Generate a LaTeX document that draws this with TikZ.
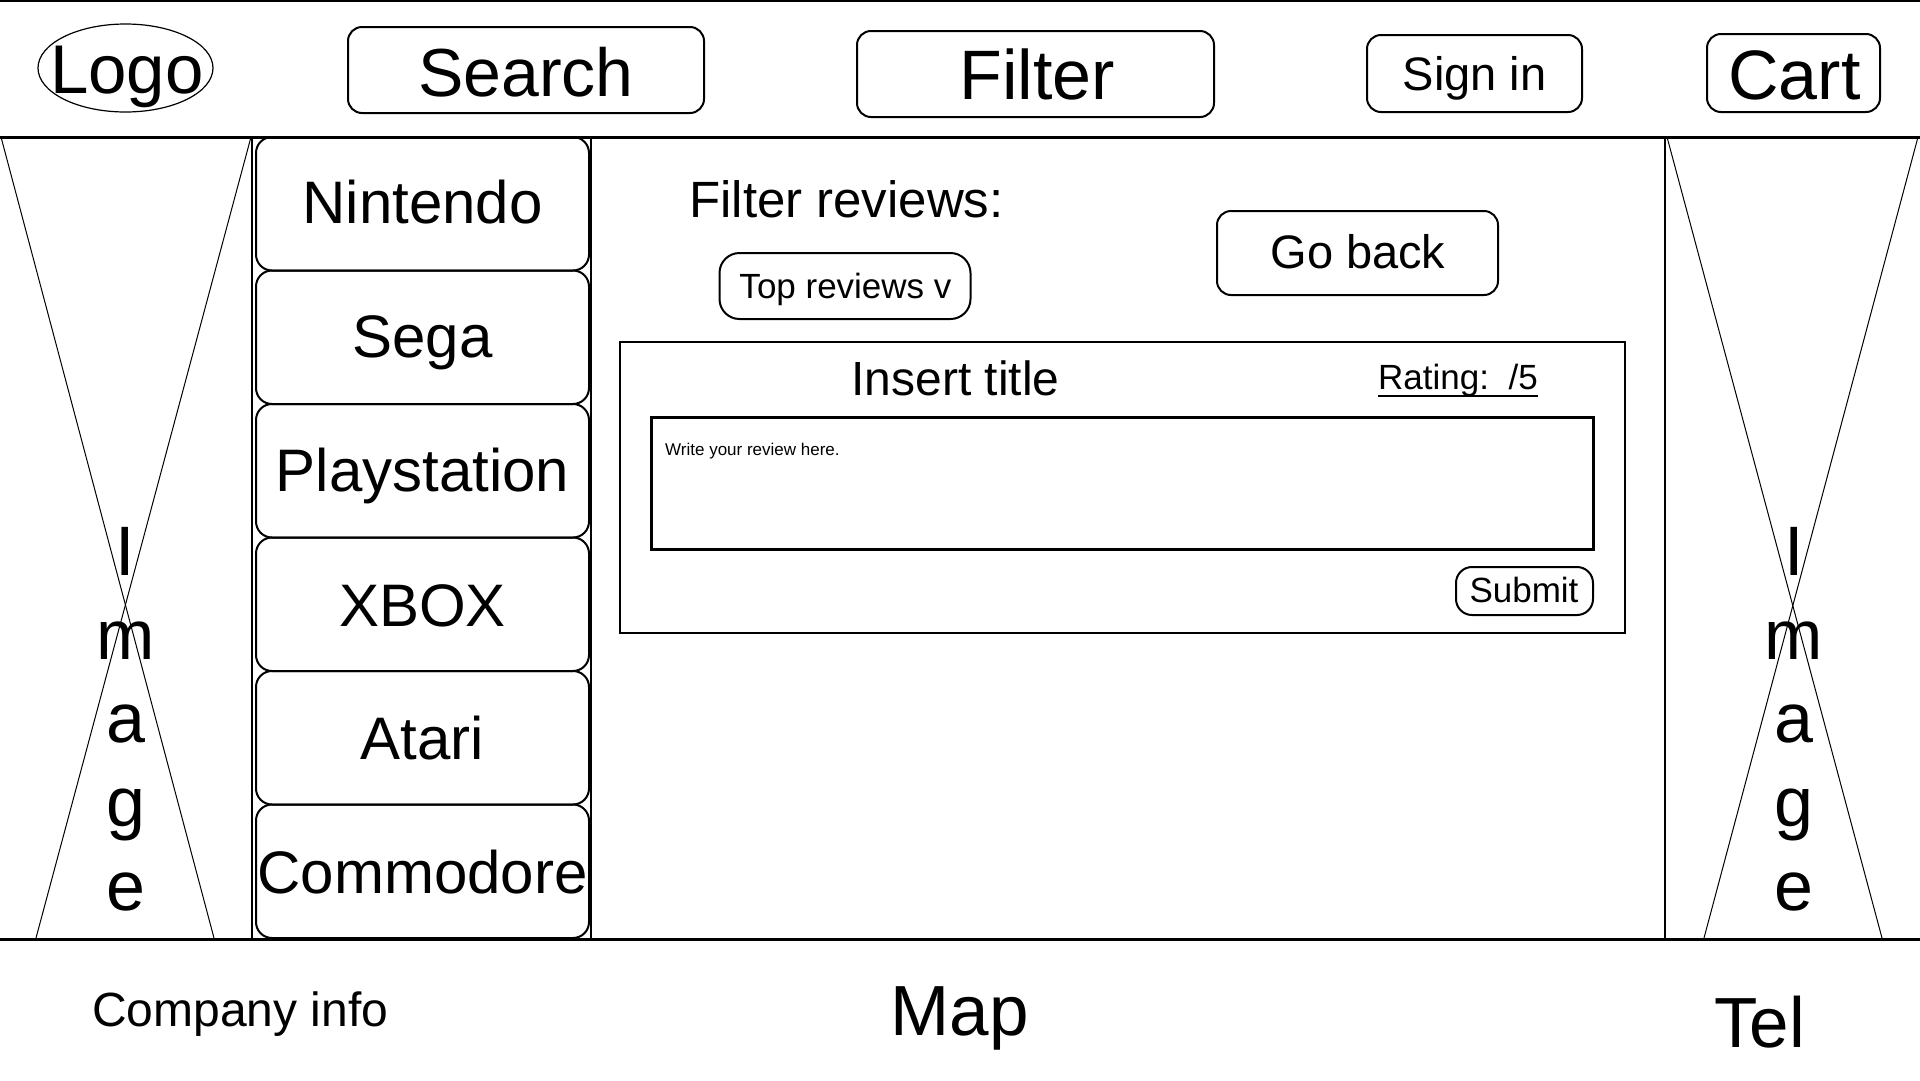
\documentclass[tikz,border=0pt]{standalone}
\usepackage{fontspec}
\setmainfont{Liberation Sans}
\usetikzlibrary{shapes.geometric}
\newcommand\wfs[1]{\fontsize{#1}{#1}\selectfont}
\begin{document}
\begin{tikzpicture}[x=1pt,y=-1pt,
  box/.style={draw,line width=2pt,rounded corners=14pt,inner sep=0pt},
  plain/.style={draw,inner sep=0pt},
  txt/.style={inner sep=0pt,anchor=base},
  thinline/.style={line width=1pt},
]
\useasboundingbox[fill=white] (0,0) rectangle (1920,1080);

% ---------- header ----------
\node[plain,ellipse,line width=1.2pt,minimum width=175pt,minimum height=88pt] (logobox) at (125.5,68) {};
\node[txt,font=\wfs{69}] (logo) at (127,93) {Logo};

\node[box,minimum width=356pt,minimum height=86pt] (searchbox) at (526,70) {};
\node[txt,font=\wfs{68}] (search) at (526,96) {Search};

\node[box,minimum width=357pt,minimum height=86pt] (filterbox) at (1035.5,74) {};
\node[txt,font=\wfs{70}] (filter) at (1037,99) {Filter};

\node[box,minimum width=215pt,minimum height=77pt] (signbox) at (1474.5,73.5) {};
\node[txt,font=\wfs{47}] (signin) at (1474.5,90) {Sign in};

\node[box,minimum width=173pt,minimum height=78pt] (cartbox) at (1793.5,73) {};
\node[txt,font=\wfs{70}] (cart) at (1794.5,99) {Cart};

% ---------- frame lines ----------
\coordinate (tl) at (0,1);   \coordinate (tr) at (1920,1);
\coordinate (hl) at (0,137); \coordinate (hr) at (1920,137);
\coordinate (fl) at (0,939); \coordinate (fr) at (1920,939);
\draw[line width=2pt] (tl) -- (tr);
\draw[line width=3pt] (hl) -- (hr);
\draw[line width=3pt] (fl) -- (fr);

% ---------- left image placeholder ----------
\coordinate (la1) at (1,137);   \coordinate (la2) at (214,938);
\coordinate (lb1) at (251,137); \coordinate (lb2) at (36,938);
\draw[thinline] (la1) -- (la2);
\draw[thinline] (lb1) -- (lb2);
\foreach \l/\yy [count=\i] in {I/575,m/659,a/742,g/826,e/910}
  {\node[txt,font=\wfs{70}] (imgL\i) at (125.5,\yy) {\l};}

% ---------- right image placeholder ----------
\coordinate (rv1) at (1665,137); \coordinate (rv2) at (1665,939);
\draw[line width=1.5pt] (rv1) -- (rv2);
\coordinate (ra1) at (1667,137); \coordinate (ra2) at (1882,938);
\coordinate (rb1) at (1918,137); \coordinate (rb2) at (1704,938);
\draw[thinline] (ra1) -- (ra2);
\draw[thinline] (rb1) -- (rb2);
\foreach \l/\yy [count=\i] in {I/575,m/659,a/742,g/826,e/910}
  {\node[txt,font=\wfs{70}] (imgR\i) at (1794,\yy) {\l};}

% ---------- navigation ----------
\node[plain,line width=2pt,minimum width=339pt,minimum height=802pt] (navpanel) at (421.5,538) {};
\foreach \t/\c/\b [count=\i] in {Nintendo/203.75/223,Sega/337.25/357,Playstation/470.75/491,XBOX/604.25/626,Atari/737.75/759,Commodore/871.25/893}
  {\node[box,rounded corners=16pt,minimum width=333pt,minimum height=133.5pt] (nav\i) at (422.5,\c) {};
   \node[txt,font=\wfs{60}] (navt\i) at (422.5,\b) {\t};}

% ---------- main content ----------
\node[txt,anchor=base west,font=\wfs{51}] (filterrev) at (689,217) {Filter reviews:};
\node[box,rounded corners=20pt,minimum width=251pt,minimum height=66pt] (topbox) at (845,286) {};
\node[txt,font=\wfs{35}] (top) at (845.5,298) {Top reviews v};

\node[box,minimum width=281pt,minimum height=84pt] (gobox) at (1357.5,253) {};
\node[txt,font=\wfs{47}] (goback) at (1358,268) {Go back};

\node[plain,line width=2.5pt,minimum width=1005pt,minimum height=291pt] (card) at (1122.5,487.5) {};
\node[txt,font=\wfs{48}] (title) at (955.5,395) {Insert title};
\node[txt,anchor=base west,font=\wfs{35}] (rating) at (1378,389) {Rating:~~/5};
\draw[line width=1.5pt] ([yshift=-7pt]rating.base west) -- ([yshift=-7pt]rating.base east);

\node[plain,line width=3pt,minimum width=942pt,minimum height=132pt] (textarea) at (1122,483) {};
\node[txt,anchor=base west,font=\wfs{17}] (write) at (665,455) {Write your review here.};

\node[box,rounded corners=16pt,minimum width=137pt,minimum height=48pt] (submitbox) at (1524.5,591) {};
\node[txt,font=\wfs{35}] (submit) at (1524,602) {Submit};

% ---------- footer ----------
\node[txt,anchor=base west,font=\wfs{48}] (company) at (92,1026) {Company info};
\node[txt,font=\wfs{71}] (map) at (959.5,1035) {Map};
\node[txt,font=\wfs{71}] (tel) at (1759.5,1047) {Tel};
\end{tikzpicture}
\end{document}
